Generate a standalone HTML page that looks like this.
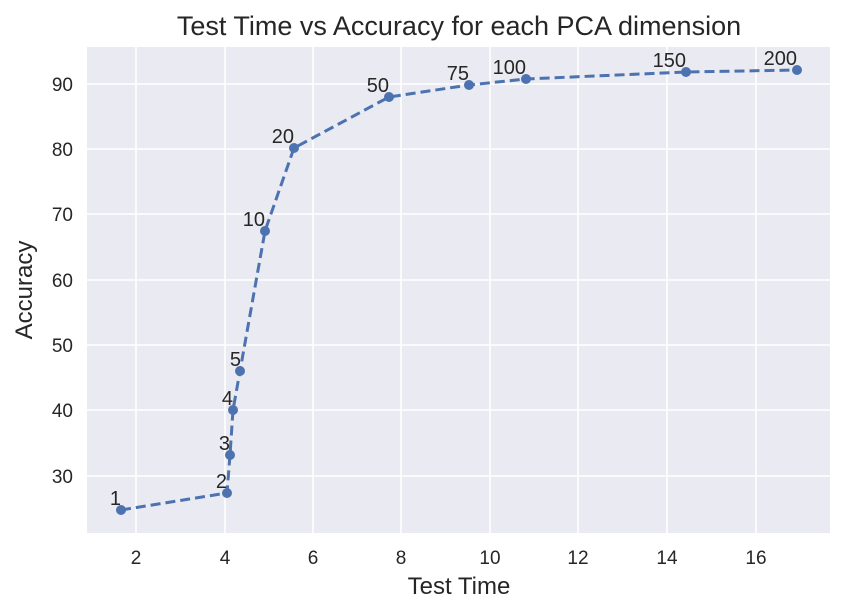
<!DOCTYPE html>
<html><head><meta charset="utf-8"><style>
body{margin:0;background:#fff;}
svg{display:block;font-family:"Liberation Sans","DejaVu Sans",sans-serif;}
</style></head><body>
<svg width="847" height="615" viewBox="0 0 847 615">
<rect width="847" height="615" fill="#fff"/>
<rect x="87" y="47" width="743" height="486" fill="#eaeaf2"/>
<g stroke="#fff" stroke-width="1.6">
<line x1="136" y1="47" x2="136" y2="533"/><line x1="225" y1="47" x2="225" y2="533"/>
<line x1="313" y1="47" x2="313" y2="533"/><line x1="401" y1="47" x2="401" y2="533"/>
<line x1="490" y1="47" x2="490" y2="533"/><line x1="578" y1="47" x2="578" y2="533"/>
<line x1="667" y1="47" x2="667" y2="533"/><line x1="756" y1="47" x2="756" y2="533"/>
<line x1="87" y1="84" x2="830" y2="84"/><line x1="87" y1="149" x2="830" y2="149"/>
<line x1="87" y1="214" x2="830" y2="214"/><line x1="87" y1="280" x2="830" y2="280"/>
<line x1="87" y1="345" x2="830" y2="345"/><line x1="87" y1="410" x2="830" y2="410"/>
<line x1="87" y1="476" x2="830" y2="476"/>
</g>
<g font-size="19" fill="#262626" text-anchor="middle">
<text x="136" y="564">2</text><text x="225" y="564">4</text><text x="313" y="564">6</text>
<text x="401" y="564">8</text><text x="490" y="564">10</text><text x="578" y="564">12</text>
<text x="667" y="564">14</text><text x="756" y="564">16</text>
</g>
<g font-size="19" fill="#262626" text-anchor="end">
<text x="73" y="91">90</text><text x="73" y="156">80</text><text x="73" y="221">70</text>
<text x="73" y="287">60</text><text x="73" y="352">50</text><text x="73" y="417">40</text>
<text x="73" y="483">30</text>
</g>
<text x="459" y="594" font-size="24" fill="#262626" text-anchor="middle">Test Time</text>
<text x="32" y="290" font-size="24" fill="#262626" text-anchor="middle" transform="rotate(-90 32 290)">Accuracy</text>
<text x="459" y="35" font-size="27" fill="#262626" text-anchor="middle">Test Time vs Accuracy for each PCA dimension</text>
<polyline fill="none" stroke="#4c72b0" stroke-width="3" stroke-dasharray="10,5" points="121,510 227,493 230,455 233,410 240,371 265,231 294,148 389,97 469,85 526,79 686,72 797,70"/>
<g fill="#4c72b0">
<circle cx="121" cy="510" r="5"/><circle cx="227" cy="493" r="5"/><circle cx="230" cy="455" r="5"/>
<circle cx="233" cy="410" r="5"/><circle cx="240" cy="371" r="5"/><circle cx="265" cy="231" r="5"/>
<circle cx="294" cy="148" r="5"/><circle cx="389" cy="97" r="5"/><circle cx="469" cy="85" r="5"/>
<circle cx="526" cy="79" r="5"/><circle cx="686" cy="72" r="5"/><circle cx="797" cy="70" r="5"/>
</g>
<g font-size="20" fill="#262626" text-anchor="end">
<text x="121" y="505">1</text><text x="227" y="488">2</text><text x="230" y="450">3</text>
<text x="233" y="405">4</text><text x="241" y="366">5</text><text x="265" y="226">10</text>
<text x="294" y="143">20</text><text x="389" y="92">50</text><text x="469" y="80">75</text>
<text x="526" y="74">100</text><text x="686" y="67">150</text><text x="797" y="65">200</text>
</g>
</svg>
</body></html>
